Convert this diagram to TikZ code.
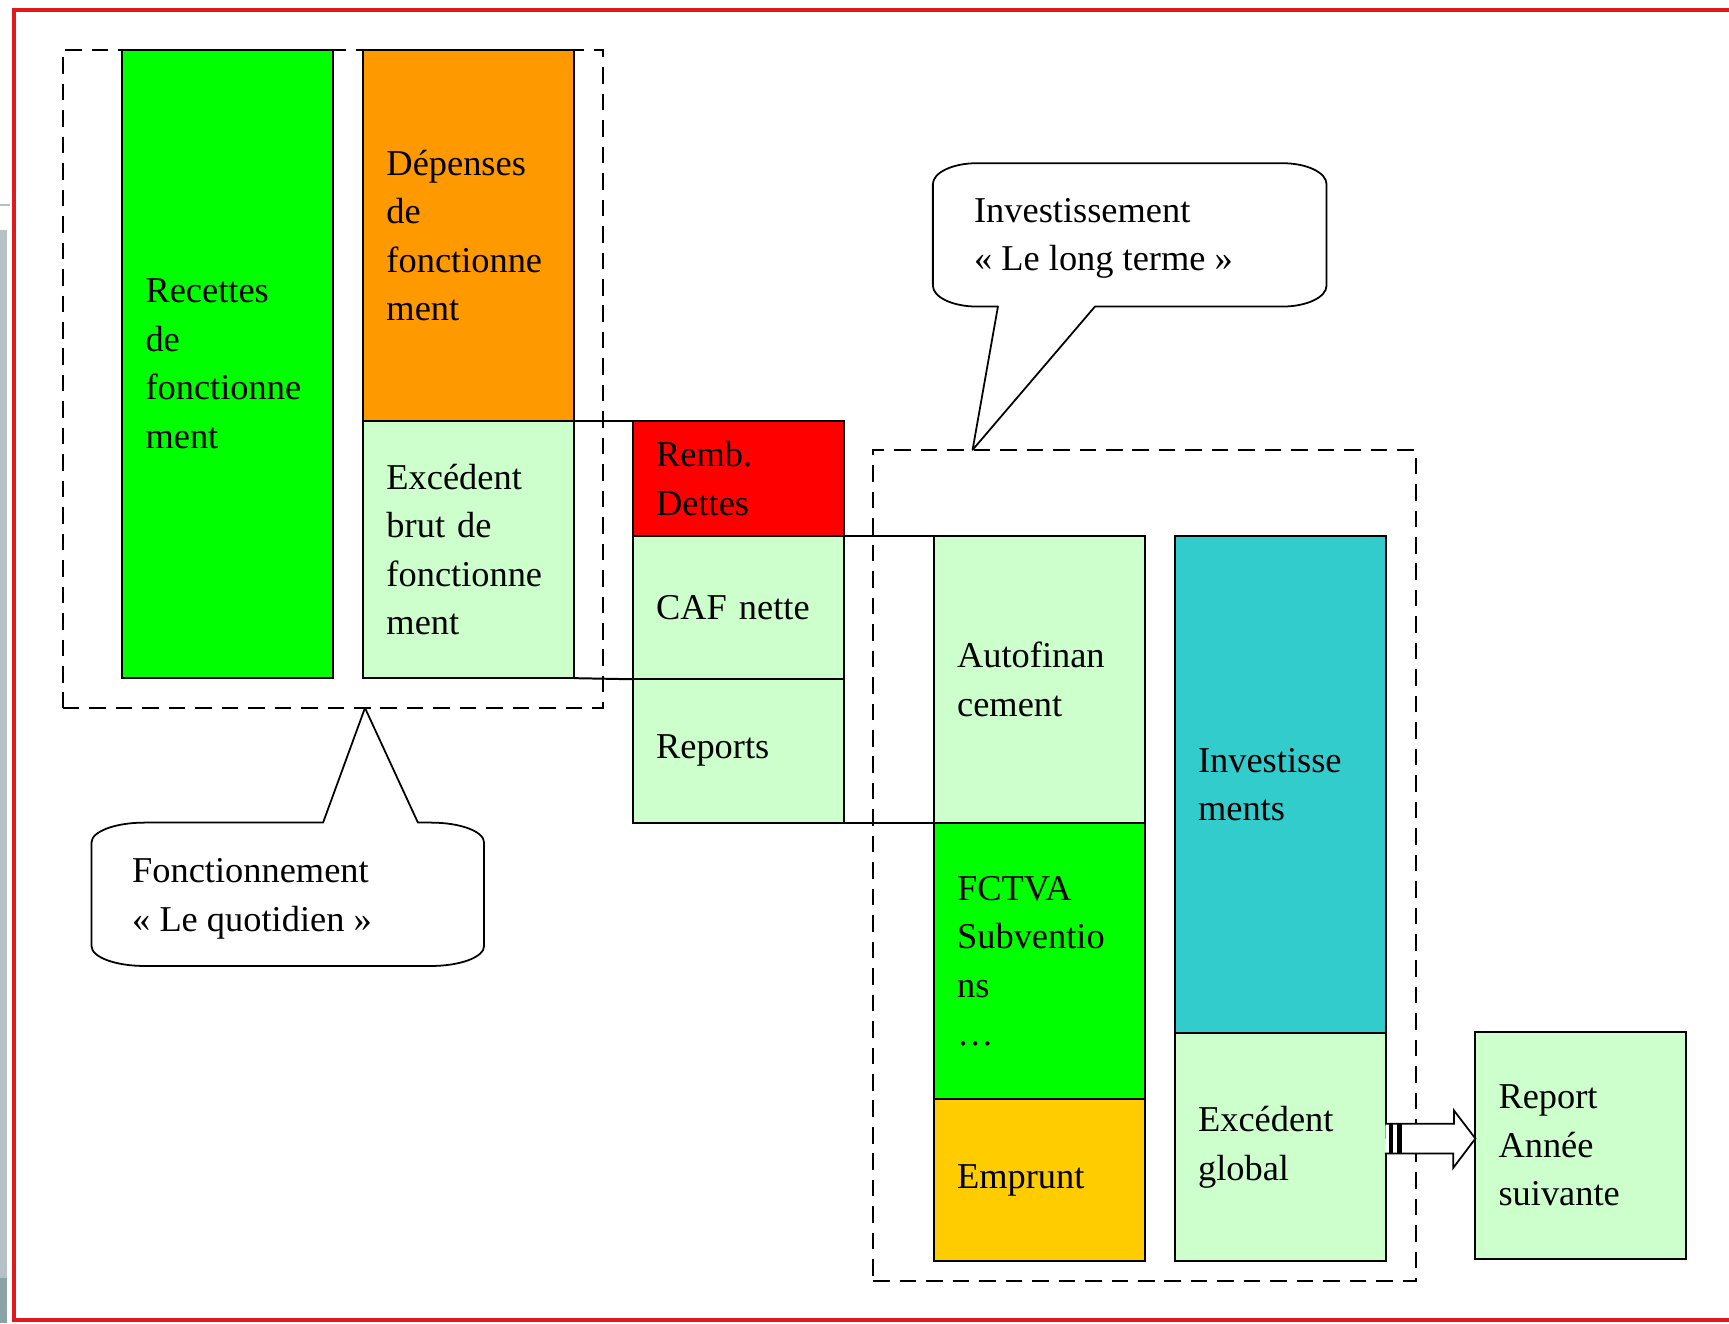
\documentclass[tikz,border=0pt]{standalone}
\usepackage{fontspec}
\setmainfont{Liberation Serif}
\definecolor{vgreen}{HTML}{00FF00}
\definecolor{lgreen}{HTML}{CCFFCC}
\definecolor{orng}{HTML}{FF9900}
\definecolor{rred}{HTML}{FF0000}
\definecolor{ygold}{HTML}{FFCC00}
\definecolor{teal2}{HTML}{33CCCC}
\definecolor{frame}{HTML}{E0191B}
\definecolor{stripA}{HTML}{B6C1C7}
\definecolor{stripB}{HTML}{8AA4A6}
\tikzset{
  blk/.style={draw=black, line width=0.9pt, minimum width=95.5pt, text width=74.5pt,
    inner xsep=10.5pt, inner ysep=0pt, outer sep=0pt, align=left, anchor=center,
    font=\fontsize{16.5}{22}\selectfont},
  zone/.style={draw=black, line width=0.9pt, dash pattern=on 7.5pt off 4.5pt, inner sep=0pt, outer sep=0pt},
  ctext/.style={inner sep=0pt, align=left, anchor=north west, font=\fontsize{16.5}{22}\selectfont},
  callout/.style={draw=black, line width=0.8pt, fill=white, line join=round},
  link/.style={draw=black, line width=0.9pt},
}
\begin{document}
\begin{tikzpicture}[x=0.5pt, y=-0.5pt]
\clip (0,0) rectangle (1568,1200);
\fill[white] (0,0) rectangle (1568,1200);
% left grey strip of the screenshot
\fill[stripA] (0,209) rectangle (6,1200);
\fill[stripB] (0,1159) rectangle (6,1200);
\draw[stripA, line width=0.6pt] (0,186) -- (9,186);
% red frame
\draw[frame, line width=1.8pt] (12.8,8.8) rectangle (1580,1197.5);

% dashed zones
\node[zone, minimum width=245pt, minimum height=298.5pt] (fonczone) at (302,343.5) {};
\node[zone, minimum width=246pt, minimum height=377pt] (invzone) at (1038,785) {};

% callout tips
\coordinate (ftip) at (331,642);
\coordinate (itip) at (882,408);

% blocks
\node[blk, fill=vgreen, minimum height=285pt] (rec) at (206.5,330) {Recettes\\de\\fonctionne\\ment};
\node[blk, fill=orng, minimum height=168.5pt] (dep) at (425,213.5) {Dépenses\\de\\fonctionne\\ment};
\node[blk, fill=lgreen, minimum height=116.5pt] (ebf) at (425,498.5) {Excédent\\brut de\\fonctionne\\ment};
\node[blk, fill=rred, minimum height=52pt] (remb) at (669.5,434) {Remb.\\Dettes};
\node[blk, fill=lgreen, minimum height=65pt] (caf) at (669.5,551) {CAF nette};
\node[blk, fill=lgreen, minimum height=65pt] (rpt) at (669.5,681) {Reports};
\node[blk, fill=lgreen, minimum height=130pt] (auto) at (942.5,616) {Autofinan\\cement};
\node[blk, fill=vgreen, minimum height=125.5pt] (fctva) at (942.5,871.5) {FCTVA\\Subventio\\ns\\…};
\node[blk, fill=ygold, minimum height=73.5pt] (emp) at (942.5,1070.5) {Emprunt};
\node[blk, fill=teal2, minimum height=225.5pt] (inv) at (1161,711.5) {Investisse\\ments};
\node[blk, fill=lgreen, minimum height=103.5pt] (eg) at (1161,1040.5) {Excédent\\global};
\node[blk, fill=lgreen, minimum height=103pt] (ras) at (1433.5,1039) {Report\\Année\\suivante};

% step lines between columns
\draw[link] (ebf.north east) -- (remb.north west);
\draw[link] (ebf.south east) -- (caf.south west);
\draw[link] (remb.south east) -- (auto.north west);
\draw[link] (rpt.south east) -- (auto.south west);

% block arrow Excédent global -> Report
\coordinate (atail) at (eg.east |- 0,1032.5);
\coordinate (ahead) at (ras.west |- 0,1032.5);
\draw[line width=0.8pt, fill=white, line join=miter]
  (atail) ++(0,-13.5) -- ++(62,0) -- ++(0,-12) -- (ahead) -- ++(-20,26.5) -- ++(0,-13) -- ++(-62,0);
\fill[black] (1259.5,1019) rectangle (1263,1046);
\fill[black] (1266.5,1019) rectangle (1271,1046);

% callout Investissement
\draw[callout] (905,278) -- (886,278)
  arc[start angle=270, end angle=180, x radius=20pt, y radius=9.5pt]
  -- (846,167)
  arc[start angle=180, end angle=90, x radius=20pt, y radius=9.5pt]
  -- (1163,148)
  arc[start angle=90, end angle=0, x radius=20pt, y radius=9.5pt]
  -- (1203,259)
  arc[start angle=0, end angle=-90, x radius=20pt, y radius=9.5pt]
  -- (993,278) -- (itip) -- cycle;
\node[ctext] (cinv) at (883,179.5) {Investissement\\« Le long terme »};

% callout Fonctionnement
\draw[callout] (293,746) -- (131,746)
  arc[start angle=90, end angle=180, x radius=24pt, y radius=9pt]
  -- (83,858)
  arc[start angle=180, end angle=270, x radius=24pt, y radius=9pt]
  -- (391,876)
  arc[start angle=270, end angle=360, x radius=24pt, y radius=9pt]
  -- (439,764)
  arc[start angle=0, end angle=90, x radius=24pt, y radius=9pt]
  -- (379,746) -- (ftip) -- cycle;
\node[ctext] (cfonc) at (119.5,778.5) {Fonctionnement\\« Le quotidien »};
\end{tikzpicture}
\end{document}
